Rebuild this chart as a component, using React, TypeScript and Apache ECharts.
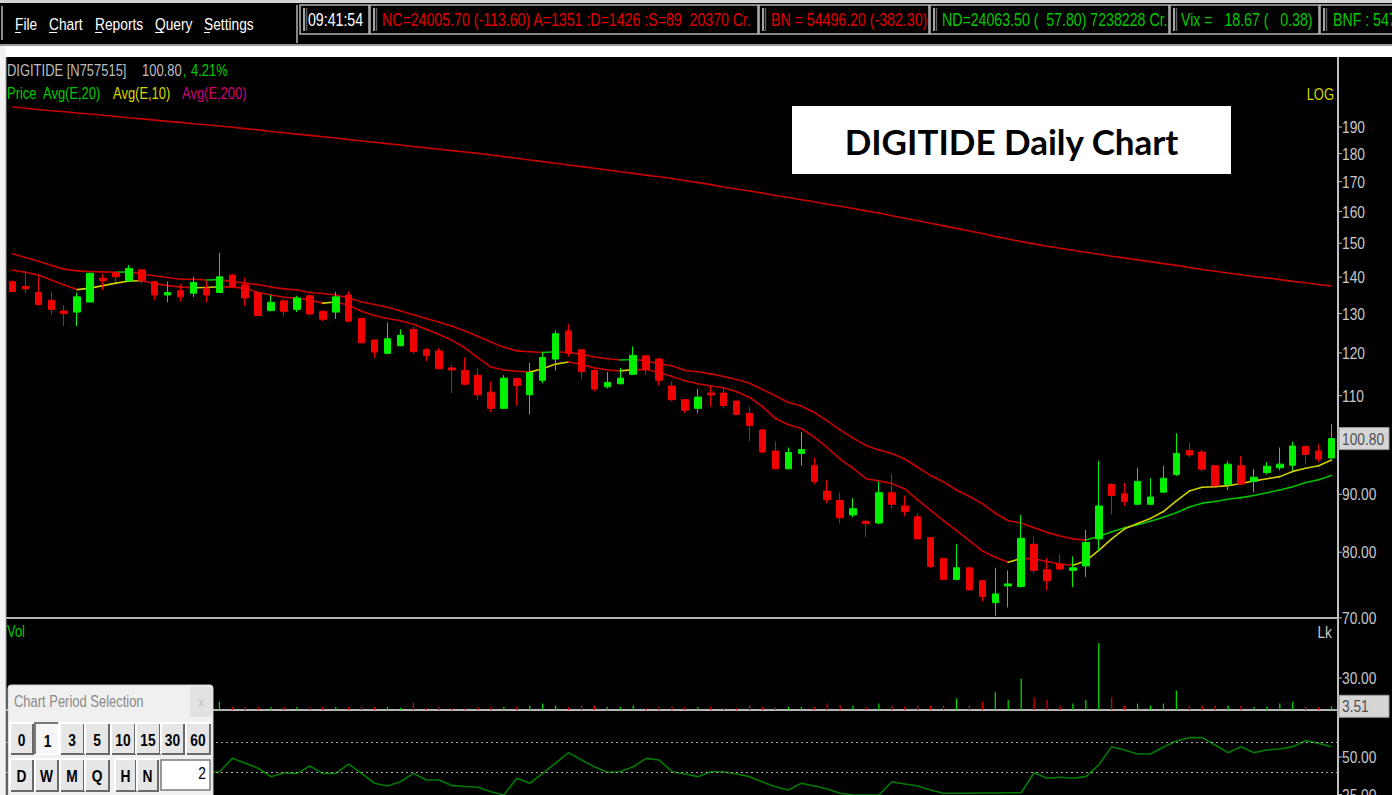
import React, { useEffect, useRef } from "react";
import * as echarts from "echarts";

// ---------------- DATA ----------------
const openP = [138.7,137.4,135.7,133.6,130.7,130.4,133.1,139.7,141.3,139.0, 142.1,138.7,135.0,136.2,135.5,136.9,135.7,140.6,137.8,135.7, 130.8,133.4,131.1,134.8,130.6,130.4,135.0,128.7,123.2,119.9, 121.8,125.9,120.8,120.5,116.4,115.8,114.7,110.8,107.2,113.9, 110.2,113.5,118.5,125.5,120.8,115.8,112.0,112.7,114.9,119.3, 118.5,112.2,109.1,107.2,110.6,110.6,108.8,106.1,102.6,98.3, 94.8,97.8,95.4,90.6,88.9,86.3,85.2,84.9,90.3,87.9, 86.0,82.4,79.0,75.7,77.5,75.5,72.2,74.7,74.6,81.3, 77.2,78.1,77.1,77.8,82.2,91.8,90.1,88.2,88.2,90.4, 93.7,98.4,98.1,95.4,91.8,95.4,92.4,94.1,95.0,95.5, 99.2,98.3,96.9];
const closeP = [136.0,136.7,132.4,131.1,130.0,134.5,141.1,139.0,140.1,142.5, 139.0,135.0,135.7,134.5,138.5,135.0,140.1,137.3,134.2,129.5, 133.0,130.6,134.2,129.9,128.5,134.5,128.0,122.5,120.2,123.5, 124.4,120.3,119.4,116.2,115.9,112.6,110.2,107.2,114.0,112.3, 115.3,118.9,124.8,119.9,115.5,111.5,113.0,114.0,119.4,116.0, 113.5,109.1,106.8,109.7,110.2,107.8,105.9,103.5,98.1,94.8, 98.0,98.6,92.4,89.0,85.8,87.4,84.8,90.3,88.2,86.9, 82.2,77.7,75.7,77.5,74.1,73.1,73.5,75.0,82.3,77.1, 75.5,77.3,77.5,81.6,87.9,89.8,88.7,92.4,89.5,93.0, 97.8,97.5,94.7,91.6,95.7,91.9,93.2,95.3,95.7,99.3, 97.6,96.7,100.8];
const highP = [139.0,141.6,140.2,135.9,132.3,135.7,141.3,140.9,141.6,143.5, 142.3,139.0,138.7,138.1,140.1,139.0,147.1,140.9,139.9,135.9, 135.0,133.9,134.8,135.3,130.8,135.9,136.1,128.9,123.3,127.6, 125.9,126.6,121.2,121.2,117.2,118.9,116.4,113.3,114.7,114.1, 117.6,120.3,125.6,127.2,120.9,116.0,115.4,116.4,121.6,119.5, 118.8,113.3,109.3,111.5,112.1,111.8,108.9,107.5,102.8,100.2, 99.0,102.2,97.0,92.7,90.3,89.3,85.5,92.4,93.9,89.8, 86.6,82.5,79.1,81.3,77.6,75.6,77.5,77.1,86.3,82.6, 79.1,79.7,79.3,83.7,96.3,92.1,92.1,95.0,93.0,95.4, 101.9,99.9,98.6,95.5,96.3,97.3,94.8,96.1,99.0,100.2, 99.4,99.6,103.8];
const lowP = [135.8,135.7,132.2,129.7,126.7,126.7,133.0,136.4,138.7,138.8, 138.1,133.6,133.0,133.2,134.5,133.0,135.6,137.1,132.0,129.4, 130.6,129.2,130.4,129.5,128.0,128.6,127.9,122.4,118.8,119.7, 121.6,119.8,118.0,116.0,110.6,112.3,109.0,106.4,107.1,107.8, 105.9,112.8,115.8,119.1,113.7,111.0,111.6,112.6,114.7,114.7, 112.3,108.8,106.2,106.2,107.5,107.2,105.7,100.3,97.9,94.7, 94.7,95.4,91.9,88.4,84.8,85.9,82.5,84.7,87.4,86.1, 82.1,77.5,75.6,75.6,74.0,72.4,70.3,71.5,74.5,76.6, 74.0,77.1,74.5,76.1,80.2,86.4,87.9,88.1,88.1,90.3, 93.4,97.1,94.3,91.4,90.8,91.8,90.4,93.7,94.5,94.5, 95.7,96.1,96.8];
const ema20 = [146.8,145.7,144.6,143.4,142.3,141.8,141.6,141.5,141.4,141.5, 140.9,140.4,139.9,139.4,139.4,139.2,139.3,138.7,138.3,137.9, 137.2,136.7,136.4,135.7,135.4,135.0,134.2,133.1,132.4,131.7, 130.7,129.7,128.7,127.7,126.7,125.5,124.1,122.7,121.4,120.5, 120.3,120.1,120.3,120.1,119.7,119.0,118.6,118.3,118.4,118.1, 117.4,116.9,115.8,115.5,115.0,114.4,113.7,112.8,111.4,110.0, 108.5,107.7,106.3,104.5,102.6,100.9,99.4,98.5,97.8,96.7, 95.1,93.5,92.3,90.8,89.6,88.3,86.6,85.3,84.9,84.1, 83.3,82.7,82.2,82.0,82.6,83.4,84.1,84.6,85.2,85.9, 86.7,87.7,88.4,88.7,89.1,89.4,89.8,90.3,90.8,91.4, 92.2,92.7,93.5];
const ema10 = [142.0,141.4,140.6,139.2,137.8,136.5,136.9,137.6,138.3,138.9, 139.0,138.2,137.6,137.2,137.0,137.1,137.3,137.2,136.9,135.7, 135.0,134.4,134.1,133.6,132.8,133.1,132.2,130.6,129.5,128.7, 128.1,127.2,125.9,124.6,123.1,121.2,118.8,116.6,115.9,115.6, 115.4,116.2,117.3,117.8,117.2,116.4,115.9,115.7,116.0,116.0, 115.3,114.4,113.4,112.7,112.2,111.8,110.9,109.6,107.6,105.0, 103.7,102.9,101.1,99.0,96.7,94.9,92.9,92.5,92.0,91.0, 89.0,87.1,85.3,83.6,81.9,80.2,79.2,78.4,79.0,78.9, 78.5,78.1,77.9,78.6,80.3,82.2,83.9,84.8,85.7,86.9, 88.8,90.6,91.3,91.4,91.6,92.0,92.5,92.9,93.3,94.3, 94.9,95.4,96.5];
const ema200 = [197.9,197.4,196.9,196.4,196.0,195.5,195.1,194.6,194.1,193.6, 193.2,192.7,192.2,191.8,191.3,190.9,190.4,189.9,189.4,188.9, 188.3,187.8,187.3,186.8,186.3,185.8,185.2,184.7,184.2,183.7, 183.2,182.6,182.1,181.6,181.1,180.6,180.1,179.5,178.9,178.3, 177.7,177.1,176.5,175.9,175.3,174.7,174.1,173.5,172.9,172.3, 171.7,171.1,170.4,169.7,169.0,168.2,167.5,166.8,166.1,165.3, 164.6,163.9,163.2,162.4,161.7,161.0,160.2,159.5,158.6,157.8, 157.0,156.2,155.4,154.6,153.8,153.0,152.1,151.3,150.5,149.8, 149.1,148.5,147.9,147.3,146.7,146.1,145.6,145.0,144.5,143.9, 143.4,142.8,142.2,141.7,141.2,140.7,140.2,139.8,139.3,138.8, 138.4,137.9,137.5];
const volume = [3.2,2.8,4.1,3.5,2.6,5.2,6.8,2.4,2.2,4.6, 3.1,3.4,2.5,2.9,3.3,2.7,7.7,2.6,2.9,2.7, 2.5,2.8,2.7,2.6,2.9,2.7,2.8,2.6,2.7,2.9, 2.0,6.7,1.7,2.7,1.7,1.7,2.8,2.6,2.7,2.9, 4.3,6.0,4.3,2.7,4.3,4.3,2.6,2.8,4.3,1.7, 2.7,2.9,2.6,2.7,2.8,1.7,1.7,4.3,2.7,2.6, 2.8,2.7,2.9,6.0,4.7,4.3,2.7,6.0,4.3,2.7, 4.3,4.3,4.3,11.0,4.3,7.7,16.7,9.3,29.3,12.0, 9.3,4.3,6.0,9.3,62.7,12.0,4.3,6.0,4.3,6.0, 18.3,4.3,4.3,4.3,4.3,4.3,2.7,2.8,6.0,7.7, 2.7,2.6,3.51];
const rsi = [44.0,42.0,38.0,36.0,34.0,38.0,48.0,46.0,47.0,52.0, 47.0,41.0,42.0,40.0,45.0,40.2,40.0,49.1,45.8,42.5, 36.9,39.5,39.1,44.0,39.1,39.1,45.3,39.1,32.5,30.7, 33.5,39.1,34.7,34.7,30.9,30.3,29.8,26.9,24.7,35.8, 32.5,39.1,46.0,52.9,48.0,43.5,39.8,40.2,43.5,49.1, 48.0,40.2,38.7,36.9,40.2,40.2,38.7,36.9,33.3,30.2, 28.0,32.5,30.7,28.7,25.8,24.7,24.7,24.7,33.5,32.0, 30.7,28.0,25.8,25.8,25.8,26.0,26.0,26.2,26.2,39.5, 35.8,36.5,35.8,36.9,44.7,56.9,54.7,52.0,52.0,56.7, 60.7,62.9,62.9,58.0,52.9,56.9,52.9,54.7,55.3,56.9, 60.9,59.1,56.9];
const categories = openP.map((_, i) => `D${i + 1}`);

const priceTicks = [190, 180, 170, 160, 150, 140, 130, 120, 110, 90, 80, 70];
const priceTickLabels = ["190", "180", "170", "160", "150", "140", "130", "120", "110", "90.00", "80.00", "70.00"];
const volTicks = [30];
const volTickLabels = ["30.00"];
const rsiTicks = [50, 25];
const rsiTickLabels = ["50.00", "25.00"];
const rsiBands = [60, 40];
const lastPriceLabel = "100.80";
const lastVolLabel = "3.51";

const menuItems = ["File", "Chart", "Reports", "Query", "Settings"];
const tickerTexts = [
  "09:41:54",
  "NC=24005.70 (-113.60) A=1351 :D=1426 :S=89  20370 Cr.",
  "BN = 54496.20 (-382.30)",
  "ND=24063.50 (  57.80) 7238228 Cr.",
  "Vix =   18.67 (   0.38)",
  "BNF : 547",
];
const periodRow1 = ["0", "1", "3", "5", "10", "15", "30", "60"];
const periodRow2 = ["D", "W", "M", "Q", "H", "N"];

// ---------------- STYLE ----------------
const SANS = '"Liberation Sans", Arial, sans-serif';
const NX = 0.81; // horizontal squeeze to mimic the narrow UI font
const UP = "#00f000";
const DOWN = "#f00000";
const LINE_RED = "#c80000";
const AXIS = "#c0c0c0";
const LABEL = "#c8c8c8";

function segmentSeries(name: string, values: number[], upColor: string, downColor: string) {
  const data = values.slice(1).map((v, k) => [k + 1, values[k], v]);
  return {
    type: "custom",
    name,
    xAxisIndex: 0,
    yAxisIndex: 0,
    z: 3,
    encode: { x: 0, y: [1, 2] },
    renderItem: (_p: any, api: any) => {
      const i = api.value(0);
      const a = api.coord([i - 1, api.value(1)]);
      const b = api.coord([i, api.value(2)]);
      const up = api.value(2) > api.value(1);
      return {
        type: "line",
        shape: { x1: a[0], y1: a[1], x2: b[0], y2: b[1] },
        style: { stroke: up ? upColor : downColor, lineWidth: 1.6, lineCap: "round" },
      };
    },
    data,
  };
}

function textEl(x: number, y: number, text: string, fill: string, size = 17, align = "left", extra: any = {}) {
  return {
    type: "text",
    x,
    y,
    scaleX: extra.scaleX !== undefined ? extra.scaleX : NX,
    z: extra.z !== undefined ? extra.z : 60,
    silent: true,
    style: {
      text,
      fill,
      fontSize: size,
      fontFamily: extra.fontFamily || SANS,
      fontWeight: extra.fontWeight || "normal",
      align,
      verticalAlign: "middle",
      textAlign: align,
      textVerticalAlign: "middle",
    },
  };
}

function tickSeries(ticks: number[], labels: string[], xi: number) {
  return {
    type: "custom",
    xAxisIndex: xi,
    yAxisIndex: xi,
    clip: false,
    z: 5,
    silent: true,
    encode: { x: 0, y: 1 },
    renderItem: (params: any, api: any) => {
      const y = api.coord([0, api.value(1)])[1];
      const cs = params.coordSys;
      const x = cs.x + cs.width;
      const t: any = textEl(x + 4, y, labels[params.dataIndex], LABEL, 17);
      delete t.z;
      return {
        type: "group",
        children: [
          { type: "line", shape: { x1: x, y1: y, x2: x + 4, y2: y }, style: { stroke: AXIS, lineWidth: 1 } },
          t,
        ],
      };
    },
    data: ticks.map((t) => [0, t]),
  };
}

function boxSeries(value: number, label: string, xi: number) {
  return {
    type: "custom",
    xAxisIndex: xi,
    yAxisIndex: xi,
    clip: false,
    z: 6,
    silent: true,
    encode: { x: 0, y: 1 },
    renderItem: (params: any, api: any) => {
      const y = api.coord([0, api.value(1)])[1];
      const cs = params.coordSys;
      const x = cs.x + cs.width + 1;
      const t: any = textEl(x + 3, y, label, "#505050", 17);
      delete t.z;
      return {
        type: "group",
        children: [
          { type: "rect", shape: { x: x, y: y - 11, width: 50, height: 22 }, style: { fill: "#d6d6d6", stroke: "#9a9a9a", lineWidth: 1 } },
          t,
        ],
      };
    },
    data: [[0, value]],
  };
}

function rect(x: number, y: number, w: number, h: number, fill: string, stroke?: string, z = 55) {
  return {
    type: "rect",
    z,
    silent: true,
    shape: { x, y, width: w, height: h },
    style: { fill, stroke: stroke || null, lineWidth: 1 },
  };
}

function line(x1: number, y1: number, x2: number, y2: number, stroke: string, w = 1, z = 56) {
  return { type: "line", z, silent: true, shape: { x1, y1, x2, y2 }, style: { stroke, lineWidth: w } };
}

function bevel(x: number, y: number, w: number, h: number, pressed: boolean, face: string, z = 62) {
  const hi = pressed ? "#7a7a7a" : "#ffffff";
  const lo = pressed ? "#ffffff" : "#6a6a6a";
  return [
    rect(x, y, w, h, face, undefined, z),
    { type: "polyline", z: z + 1, silent: true, shape: { points: [[x, y + h], [x, y], [x + w, y]] }, style: { stroke: hi, lineWidth: 2, fill: "none" } },
    { type: "polyline", z: z + 1, silent: true, shape: { points: [[x + 1, y + h], [x + w, y + h], [x + w, y + 1]] }, style: { stroke: lo, lineWidth: 2, fill: "none" } },
  ];
}

function buildGraphics() {
  const g: any[] = [];
  // top bar
  g.push(rect(0, 0, 1392, 47, "#d4d4d4", undefined, 50));
  g.push(rect(0, 3, 297, 41, "#000000", undefined, 51));
  g.push(rect(297, 3, 1095, 41, "#000000", undefined, 51));
  g.push(line(0, 45, 1392, 45, "#9a9a9a", 2, 52));
  g.push(rect(0, 46, 1392, 11, "#ffffff", undefined, 51));
  // left strip
  g.push(rect(0, 46, 6, 760, "#f2f2f2", undefined, 51));
  g.push(line(6, 57, 6, 795, "#a8a8a8", 1, 52));
  // menu
  const menuX = [15, 49, 95, 155, 204];
  const menuW = [6, 8, 7, 8, 6];
  menuItems.forEach((m, i) => {
    g.push(textEl(menuX[i], 24, m, "#ffffff", 17));
    g.push(line(menuX[i], 32.5, menuX[i] + menuW[i], 32.5, "#ffffff", 1, 60));
  });
  g.push(line(2, 6, 2, 40, "#8a8a8a", 2, 56));
  // ticker boxes
  const boxX = [300, 370, 759, 930, 1170, 1320];
  const boxEnd = [369, 758, 929, 1169, 1319, 1400];
  const textX = [308, 382, 771, 942, 1181, 1333];
  const tickColors = ["#ffffff", "#e00000", "#e00000", "#00c800", "#00c800", "#00c800"];
  tickerTexts.forEach((t, i) => {
    const x = boxX[i];
    const w = boxEnd[i] - x;
    g.push({ type: "rect", z: 56, silent: true, shape: { x, y: 5, width: w, height: 29 }, style: { fill: "#000", stroke: "#b4b4b4", lineWidth: 1.5 } });
    g.push(line(x + 4, 8, x + 4, 31, "#d8d8d8", 1.5, 57));
    g.push(line(x + 6.5, 8, x + 6.5, 31, "#606060", 1.5, 57));
    g.push(textEl(textX[i], 20, t.replace(/ {2,}/g, (s) => " " + "\u00a0".repeat(s.length - 1)), tickColors[i], 17.5));
  });
  g.push(line(297, 5, 297, 43, "#b4b4b4", 1.5, 57));
  // header text
  g.push(textEl(7, 71, "DIGITIDE [N757515]", "#bdbdbd", 16));
  g.push(textEl(142, 71, "100.80", "#bdbdbd", 16));
  g.push(textEl(183, 71, ",", "#00c800", 16));
  g.push(textEl(191, 71, "4.21%", "#00c800", 16));
  g.push(textEl(7, 94, "Price", "#00c800", 16));
  g.push(textEl(43, 94, "Avg(E,20)", "#00c800", 16));
  g.push(textEl(113, 94, "Avg(E,10)", "#d8d800", 16));
  g.push(textEl(182, 94, "Avg(E,200)", "#d0007a", 16));
  g.push(textEl(1334, 95, "LOG", "#d8d800", 16, "right"));
  g.push(textEl(7, 632, "Vol", "#00c800", 16));
  g.push(textEl(1332, 632, "Lk", LABEL, 17, "right"));
  // title box
  g.push(rect(792, 106, 439, 68, "#ffffff", undefined, 60));
  g.push(textEl(1011.5, 141, "DIGITIDE Daily Chart", "#000000", 35, "center", { scaleX: 1, fontFamily: "Lato, 'Open Sans', sans-serif", fontWeight: "bold", z: 61 }));
  // dialog
  g.push({ type: "rect", z: 61, silent: true, shape: { x: 8, y: 685, width: 205, height: 120, r: 3 }, style: { fill: "#f0f0f0", stroke: "#cfcfcf", lineWidth: 1 } });
  g.push(textEl(14, 702, "Chart Period Selection", "#8a8a8a", 16, "left", { z: 66 }));
  g.push(rect(190, 687, 22, 30, "#e2e2e2", undefined, 62));
  g.push(textEl(201, 702, "x", "#c4c4c4", 15, "center", { z: 66 }));
  const r1x = [10, 35, 60, 85, 111, 136, 161, 186];
  const r1w = [23, 23, 24, 24, 24, 24, 23, 24];
  periodRow1.forEach((b, i) => {
    const pressed = i === 1;
    bevel(r1x[i], 723, r1w[i], 31, pressed, pressed ? "#f6f6f6" : "#e6e6e6").forEach((e) => g.push(e));
    g.push(textEl(r1x[i] + r1w[i] / 2 + (pressed ? 1 : 0), 740 + (pressed ? 1 : 0), b, "#000000", 17, "center", { fontWeight: "bold", z: 66 }));
  });
  const r2x = [10, 35, 60, 85, 115, 137];
  const r2w = [23, 23, 24, 24, 21, 21];
  periodRow2.forEach((b, i) => {
    bevel(r2x[i], 759, r2w[i], 32, false, "#e6e6e6").forEach((e) => g.push(e));
    g.push(textEl(r2x[i] + r2w[i] / 2, 776, b, "#000000", 17, "center", { fontWeight: "bold", z: 66 }));
  });
  g.push({ type: "rect", z: 62, silent: true, shape: { x: 161, y: 760, width: 49, height: 30 }, style: { fill: "#ffffff", stroke: "#7a7a7a", lineWidth: 1.5 } });
  g.push(textEl(206, 773, "2", "#000000", 17, "right", { z: 66 }));
  return g;
}

export default function App() {
  const ref = useRef<HTMLDivElement>(null);
  useEffect(() => {
    if (!ref.current) return;
    const chart = echarts.init(ref.current, null, { renderer: "svg" });
    const grids = [
      { left: 6, right: 54, top: 57, height: 561 },
      { left: 6, right: 54, top: 619, height: 91 },
      { left: 6, right: 54, top: 711, bottom: 0 },
    ];
    const xAxes = grids.map((_, i) => ({
      type: "category",
      gridIndex: i,
      data: categories,
      boundaryGap: true,
      axisLine: { show: i < 2, onZero: false, lineStyle: { color: "#b4b4b4", width: 2 } },
      axisTick: { show: false },
      axisLabel: { show: false },
      splitLine: { show: false },
    }));
    const axisLineStyle = { show: true, lineStyle: { color: AXIS, width: 2 } };
    const yAxes = [
      { type: "log", logBase: 10, gridIndex: 0, min: 69.98, max: 219.1, position: "right", axisLine: axisLineStyle, axisTick: { show: false }, axisLabel: { show: false }, splitLine: { show: false } },
      { type: "value", gridIndex: 1, min: 0, max: 85.3, position: "right", axisLine: axisLineStyle, axisTick: { show: false }, axisLabel: { show: false }, splitLine: { show: false } },
      { type: "value", gridIndex: 2, min: 24.67, max: 80.67, position: "right", axisLine: axisLineStyle, axisTick: { show: false }, axisLabel: { show: false }, splitLine: { show: false } },
    ];
    const candleData = openP.map((o, i) => [o, closeP[i], lowP[i], highP[i]]);
    const option: any = {
      animation: false,
      backgroundColor: "#000000",
      grid: grids,
      xAxis: xAxes,
      yAxis: yAxes,
      series: [
        {
          type: "line",
          name: "Avg(E,200)",
          xAxisIndex: 0,
          yAxisIndex: 0,
          data: ema200,
          symbol: "none",
          z: 3,
          lineStyle: { color: LINE_RED, width: 1.6 },
        },
        segmentSeries("Avg(E,20)", ema20, "#00c000", LINE_RED),
        segmentSeries("Avg(E,10)", ema10, "#d0d000", LINE_RED),
        {
          type: "candlestick",
          name: "Price",
          xAxisIndex: 0,
          yAxisIndex: 0,
          data: candleData,
          barWidth: 7,
          z: 4,
          itemStyle: { color: UP, color0: DOWN, borderColor: UP, borderColor0: DOWN, borderWidth: 1 },
        },
        tickSeries(priceTicks, priceTickLabels, 0),
        boxSeries(closeP[closeP.length - 1], lastPriceLabel, 0),
        {
          type: "bar",
          name: "Vol",
          xAxisIndex: 1,
          yAxisIndex: 1,
          barWidth: 1.2,
          data: volume.map((v, i) => ({ value: v, itemStyle: { color: closeP[i] >= openP[i] ? "#00e000" : "#e00000" } })),
        },
        tickSeries(volTicks, volTickLabels, 1),
        boxSeries(volume[volume.length - 1], lastVolLabel, 1),
        {
          type: "line",
          name: "RSI",
          xAxisIndex: 2,
          yAxisIndex: 2,
          data: rsi,
          symbol: "none",
          lineStyle: { color: "#007a00", width: 1.6 },
          markLine: {
            silent: true,
            symbol: "none",
            label: { show: false },
            lineStyle: { color: "#a8a8a8", type: [2, 3], width: 1.2 },
            data: rsiBands.map((b) => ({ yAxis: b })),
          },
        },
        tickSeries(rsiTicks, rsiTickLabels, 2),
      ],
      graphic: { elements: buildGraphics() },
    };
    chart.setOption(option);
    return () => chart.dispose();
  }, []);
  return <div ref={ref} style={{ position: "fixed", left: 0, top: 0, width: 1392, height: 795 }} />;
}
